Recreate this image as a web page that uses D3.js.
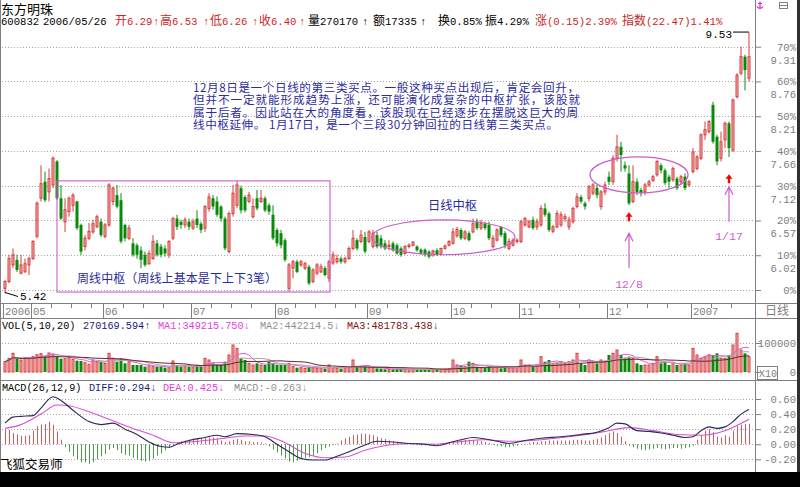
<!DOCTYPE html>
<html><head><meta charset="utf-8">
<script src="https://cdn.jsdelivr.net/npm/d3@7/dist/d3.min.js"></script>
<style>
html,body{margin:0;padding:0;background:#fff;overflow:hidden}
svg{display:block}
</style></head><body>
<svg id="chart" width="800" height="487"></svg>
<script>
// ================= DATA =================
const months = ["2006/04","2006/05","2006/06","2006/07","2006/08","2006/09","2006/10","2006/11","2006/12","2007/01"];
const monthLabels = ["2006","05","06","07","08","09","10","11","12","2007"];
const monthDays = [
 [20,21,24,25,26,27,28],
 [8,9,10,11,12,15,16,17,18,19,22,23,24,25,26,29,30,31],
 [1,2,5,6,7,8,9,12,13,14,15,16,19,20,21,22,23,26,27,28,29,30],
 [3,4,5,6,7,10,11,12,13,14,17,18,19,20,21,24,25,26,27,28,31],
 [1,2,3,4,7,8,9,10,11,14,15,16,17,18,21,22,23,24,25,28,29,30,31],
 [1,4,5,6,7,8,11,12,13,14,15,18,19,20,21,22,25,26,27,28,29],
 [9,10,11,12,13,16,17,18,19,20,23,24,25,26,27,30,31],
 [1,2,3,6,7,8,9,10,13,14,15,16,17,20,21,22,23,24,27,28,29,30],
 [1,4,5,6,7,8,11,12,13,14,15,18,19,20,21,22,25,26,27,28,29],
 [4,5,8,9,10,11,12,15,16,17,18,19,22,23,24]
];
// [open, high, low, close]
const ohlc = [
[5.50,5.63,5.42,5.61],[5.61,6.03,5.58,5.97],[5.87,6.13,5.82,6.03],[5.95,6.03,5.76,5.79],[5.74,6.03,5.72,5.87],
[5.76,5.97,5.75,5.89],[5.87,6.00,5.71,5.97],[5.97,6.26,5.95,6.24],[6.32,6.87,6.29,6.84],[6.92,7.44,6.87,7.15],
[7.18,7.34,6.86,6.89],[7.02,7.39,6.87,7.23],[7.13,7.58,7.08,7.55],[7.50,7.52,6.89,6.92],[6.92,7.13,6.58,6.60],
[6.55,6.92,6.39,6.74],[6.71,6.95,6.63,6.92],[6.81,7.00,6.71,6.97],[6.87,6.88,6.42,6.45],[6.50,6.52,6.03,6.08],
[6.16,6.34,6.10,6.29],[6.29,6.53,6.26,6.40],[6.39,6.58,6.36,6.52],[6.47,6.66,6.45,6.63],[6.55,6.60,6.31,6.34],
[6.32,6.53,6.29,6.50],[6.50,7.16,6.47,7.13],[6.87,7.10,6.81,7.08],[6.97,7.13,6.76,6.79],[6.89,7.00,6.21,6.24],
[6.50,6.52,6.24,6.29],[6.29,6.50,6.26,6.45],[6.21,6.29,6.00,6.03],[6.18,6.21,5.97,6.03],[6.10,6.16,5.82,5.95],
[6.03,6.08,5.84,5.87],[5.89,6.10,5.87,6.05],[5.97,6.34,5.95,6.24],[6.21,6.26,6.00,6.03],[6.16,6.20,5.99,6.03],
[6.13,6.18,6.00,6.05],[6.03,6.26,5.98,6.24],[6.29,6.63,6.26,6.60],[6.60,6.66,6.42,6.47],[6.55,6.58,6.44,6.50],
[6.50,6.62,6.45,6.58],[6.55,6.60,6.42,6.47],[6.45,6.60,6.42,6.55],[6.60,6.73,6.45,6.50],[6.52,6.55,6.37,6.42],
[6.45,6.81,6.39,6.79],[6.76,7.00,6.71,6.94],[6.92,6.97,6.74,6.79],[6.87,6.95,6.63,6.66],[6.79,6.81,6.55,6.60],
[6.60,6.63,6.10,6.13],[6.08,6.71,6.05,6.68],[6.68,7.13,6.63,7.00],[6.81,7.19,6.76,7.13],[7.08,7.12,6.68,6.73],
[6.94,6.97,6.70,6.73],[6.87,7.02,6.84,6.97],[6.63,6.92,6.60,6.79],[6.92,7.05,6.73,6.76],[6.87,7.05,6.84,6.92],
[6.92,6.95,6.70,6.73],[6.81,6.84,6.66,6.71],[6.66,6.81,6.26,6.29],[6.42,6.45,6.16,6.21],[6.37,6.42,6.13,6.18],
[6.26,6.29,5.92,5.95],[5.50,5.90,5.45,5.87],[5.82,5.95,5.66,5.92],[5.92,5.95,5.74,5.76],[5.87,5.95,5.84,5.92],
[5.82,5.92,5.79,5.89],[5.84,5.87,5.55,5.58],[5.61,5.82,5.58,5.79],[5.74,5.90,5.71,5.87],[5.76,5.89,5.74,5.84],
[5.82,5.85,5.69,5.71],[5.66,5.95,5.60,5.92],[5.90,6.08,5.87,6.03],[5.92,6.03,5.89,5.97],[5.97,6.00,5.89,5.92],
[5.92,6.00,5.89,5.97],[5.97,6.16,5.95,6.13],[6.13,6.42,6.10,6.29],[6.26,6.29,6.10,6.13],[6.24,6.42,6.21,6.34],
[6.31,6.39,6.05,6.08],[6.24,6.42,6.21,6.39],[6.16,6.42,6.13,6.37],[6.34,6.39,6.13,6.16],[6.29,6.34,6.13,6.16],
[6.21,6.26,6.10,6.13],[6.16,6.26,6.10,6.18],[6.21,6.24,6.08,6.10],[6.18,6.21,6.03,6.05],[6.13,6.16,6.00,6.03],
[6.05,6.18,6.03,6.16],[6.16,6.21,6.13,6.18],[6.18,6.24,6.16,6.23],[6.16,6.18,6.08,6.10],[6.11,6.13,6.03,6.06],
[6.11,6.13,6.00,6.03],[6.08,6.10,5.97,6.00],[6.03,6.11,6.00,6.09],[6.10,6.13,6.01,6.03],[6.04,6.14,6.02,6.13],
[6.13,6.19,6.11,6.17],[6.18,6.26,6.16,6.24],[6.21,6.45,6.19,6.39],[6.33,6.47,6.30,6.43],[6.42,6.45,6.26,6.29],
[6.29,6.42,6.26,6.39],[6.37,6.40,6.24,6.26],[6.39,6.60,6.37,6.52],[6.55,6.60,6.42,6.45],[6.45,6.58,6.42,6.52],
[6.52,6.55,6.42,6.45],[6.50,6.55,6.26,6.29],[6.16,6.34,6.13,6.29],[6.26,6.45,6.24,6.42],[6.47,6.48,6.31,6.34],
[6.37,6.40,6.13,6.18],[6.13,6.29,6.10,6.24],[6.18,6.29,6.16,6.26],[6.24,6.29,6.21,6.26],[6.24,6.58,6.21,6.55],
[6.50,6.63,6.47,6.60],[6.47,6.58,6.45,6.55],[6.58,6.63,6.42,6.45],[6.47,6.60,6.42,6.55],[6.50,6.81,6.47,6.76],
[6.76,6.84,6.63,6.66],[6.68,6.71,6.39,6.42],[6.40,6.50,6.37,6.47],[6.47,6.73,6.45,6.68],[6.50,6.71,6.47,6.66],
[6.60,6.68,6.55,6.63],[6.47,6.63,6.42,6.58],[6.55,6.79,6.52,6.76],[6.79,7.00,6.76,6.94],[6.94,6.97,6.84,6.87],
[6.84,6.87,6.74,6.79],[6.92,7.13,6.87,7.10],[7.00,7.16,6.97,7.13],[7.08,7.13,6.92,6.97],[6.79,7.05,6.74,7.02],
[7.02,7.18,6.97,7.13],[7.26,7.34,7.13,7.18],[7.18,7.60,7.13,7.55],[7.55,7.92,7.50,7.73],[7.73,7.81,7.34,7.60],
[7.44,7.50,7.34,7.39],[7.31,7.44,6.81,6.84],[6.87,7.44,6.84,7.18],[7.18,7.23,6.97,7.02],[7.05,7.08,6.95,7.00],
[7.02,7.16,6.97,7.13],[7.13,7.21,7.10,7.18],[7.20,7.29,7.18,7.26],[7.29,7.52,7.26,7.50],[7.44,7.47,7.31,7.36],
[7.36,7.39,7.13,7.16],[7.26,7.29,7.08,7.18],[7.21,7.42,7.18,7.39],[7.23,7.26,7.05,7.08],[7.18,7.29,7.13,7.26],
[7.26,7.31,7.05,7.08],[7.13,7.21,7.10,7.18],[7.34,7.71,7.31,7.65],[7.39,7.60,7.36,7.57],[7.55,7.94,7.52,7.92],
[7.92,8.13,7.84,8.00],[7.97,8.15,7.94,8.13],[8.39,8.44,7.78,7.81],[7.89,7.92,7.44,7.50],[7.55,7.97,7.50,7.81],
[7.84,8.13,7.71,8.10],[8.10,8.13,7.57,7.71],[7.68,8.49,7.65,8.47],[8.52,8.89,8.49,8.86],[8.89,9.31,8.86,9.15],
[9.15,9.18,8.62,8.94],[8.81,9.53,8.76,9.15]
];
// volume, thousands of shares
const volumeK = [
356,471,644,471,414,471,471,529,598,632,
552,655,621,552,460,460,506,437,391,380,
322,270,414,356,356,299,644,471,356,471,
299,356,241,241,241,184,241,184,184,184,
150,150,380,241,184,184,184,184,241,184,
471,414,299,241,241,356,586,931,816,471,
414,299,241,299,241,241,356,299,241,241,
241,299,184,150,150,126,184,150,126,115,
115,241,150,126,115,115,150,414,184,184,
184,150,150,126,115,92,92,92,103,103,
92,80,80,80,80,92,92,80,80,92,
103,115,414,241,241,184,356,299,184,150,
150,184,150,150,126,150,126,115,126,414,
241,241,184,207,529,356,414,299,299,356,
299,356,414,644,299,241,414,356,299,414,
356,586,644,759,586,471,529,471,299,241,
241,241,299,529,299,356,241,299,241,241,
299,241,816,586,471,529,586,586,644,471,
471,586,931,1334,759,644,529];
// MACD lines: [candle index, value]
const diffPts = [[0,0.28],[2,0.36],[4,0.37],[7,0.38],[9,0.48],[12,0.63],[14,0.58],[17,0.45],[21,0.30],[24,0.26],[27,0.28],[30,0.20],[33,0.13],[36,0.03],[39,-0.03],[41,-0.04],[43,0.00],[46,0.05],[50,0.09],[53,0.12],[55,0.10],[58,0.14],[62,0.13],[65,0.10],[68,0.0],[71,-0.10],[74,-0.19],[77,-0.21],[80,-0.21],[83,-0.16],[86,-0.10],[90,-0.01],[93,0.04],[97,0.03],[101,0.01],[105,0.0],[108,-0.02],[111,0.02],[114,0.06],[117,0.09],[120,0.07],[123,0.04],[126,0.01],[130,0.05],[134,0.08],[139,0.10],[144,0.13],[148,0.16],[151,0.22],[153,0.28],[155,0.27],[158,0.18],[161,0.17],[164,0.15],[167,0.12],[170,0.09],[172,0.10],[174,0.18],[176,0.23],[178,0.21],[180,0.23],[182,0.30],[184,0.40],[186,0.46]];
const deaPts = [[0,0.21],[4,0.26],[9,0.40],[13,0.52],[16,0.51],[21,0.43],[27,0.31],[32,0.21],[37,0.12],[42,0.02],[46,0.03],[50,0.05],[55,0.08],[60,0.11],[65,0.11],[70,0.02],[75,-0.12],[80,-0.18],[85,-0.17],[90,-0.08],[96,-0.01],[101,0.01],[107,0.0],[113,0.03],[120,0.06],[126,0.04],[134,0.06],[141,0.10],[149,0.16],[156,0.22],[162,0.18],[168,0.13],[174,0.12],[180,0.18],[186,0.33]];
const macdHist = [
0.20,0.19,0.15,0.13,0.11,0.11,0.12,0.18,0.24,0.26,0.27,0.30,0.26,0.17,0.06,
-0.04,-0.10,-0.16,-0.20,-0.24,-0.24,-0.26,-0.24,-0.20,-0.16,-0.13,-0.07,-0.05,-0.08,-0.12,-0.14,-0.15,-0.18,-0.20,-0.22,-0.23,-0.22,-0.19,-0.15,-0.12,-0.08,-0.05,-0.01,
0.02,0.04,0.05,0.06,0.06,0.07,0.07,0.08,0.09,0.09,0.08,0.05,0.03,0.04,0.06,0.07,0.06,0.04,0.04,0.03,0.03,0.02,0.01,
-0.03,-0.07,-0.11,-0.15,-0.19,-0.23,-0.24,-0.22,-0.20,-0.18,-0.17,-0.15,-0.12,-0.08,-0.05,-0.03,-0.01,0.01,
0.05,0.08,0.10,0.12,0.13,0.14,0.14,0.13,0.12,0.10,0.08,0.07,0.05,0.04,0.03,0.02,0.02,
0.01,0.00,-0.01,-0.02,-0.02,-0.02,-0.01,-0.01,0.00,0.01,
0.02,0.03,0.04,0.05,0.06,0.06,0.06,0.05,0.04,0.03,0.02,
-0.01,-0.02,-0.03,-0.04,-0.04,-0.03,-0.02,-0.01,
0.01,0.02,0.03,0.03,0.04,0.04,0.05,0.05,0.05,0.05,0.05,0.05,0.06,0.06,0.06,0.05,0.05,0.06,0.07,0.09,0.12,0.15,0.17,0.15,0.10,0.04,
-0.02,-0.04,-0.06,-0.07,-0.08,-0.07,-0.06,-0.05,-0.06,-0.07,-0.06,-0.05,-0.05,-0.06,-0.05,-0.04,-0.02,
0.06,0.12,0.18,0.20,0.16,0.10,0.09,0.12,0.10,0.18,0.24,0.26,0.27,0.27];
// axis ticks
const basePrice = 5.475;
const pctTicks = [0,10,20,30,40,50,60,70];
const priceTickLabels = ["","6.02","6.57","7.12","7.66","8.21","8.76","9.31"];
const volTicks = [0,1000];
const volTickLabels = ["0","100000"];
const macdTicks = [-0.2,0,0.2,0.4,0.6];
// annotations (in data coordinates)
const lowMark = {i:0, price:5.42};
const highMark = {i:186, price:9.53};
const weeklyBox = {i0:13, i1:81.25, lo:5.443, hi:7.194};
const dailyCenters = [{i0:91.75, i1:127.5, lo:6.03, hi:6.58},{i0:146.25, i1:170.75, lo:7.005, hi:7.573}];
const buyMarks = [
 {i:156, label:"12/8", arrowPrice:6.70, tipPrice:6.37, tailPrice:5.82, labelPrice:5.51},
 {i:181, label:"1/17", arrowPrice:7.30, tipPrice:7.10, tailPrice:6.55, labelPrice:6.26}
];
const noteLines = [
 "12月8日是一个日线的第三类买点。一般这种买点出现后，肯定会回升，",
 "但并不一定就能形成趋势上涨，还可能演化成复杂的中枢扩张，该股就",
 "属于后者。因此站在大的角度看，该股现在已经逐步在摆脱这巨大的周",
 "线中枢延伸。 1月17日，是一个三段30分钟回拉的日线第三类买点。"
];
const noteWidths = [386,387,385,365];

// ================= DRAW =================
const svg = d3.select("#chart");
const MONO = '"Liberation Mono","DejaVu Sans Mono",monospace';
const CJK = '"Noto Sans CJK SC","Noto Sans CJK TC",sans-serif';
const GREY = "#808080";
const RED_S = "#d83c3c", RED_F = "#f3b3b3", GREEN = "#0a8a0a";
const N = ohlc.length;

const dates = [];
months.forEach((m,k)=>monthDays[k].forEach(d=>dates.push(new Date(+m.slice(0,4), +m.slice(5,7)-1, d))));
const monthStart = [];
{ let c=0; monthDays.forEach(a=>{monthStart.push(c); c+=a.length;}); }

const xc = d3.scaleLinear().domain([0,N-1]).range([5,5+4*(N-1)]);
const yP = d3.scaleLinear().domain([basePrice, basePrice*1.7]).range([290,46.7]);
const yV = d3.scaleLinear().domain([0,1000]).range([372,343]);
const yM = d3.scaleLinear().domain([-0.2,0.6]).range([459.3,399]);

svg.append("rect").attr("width",800).attr("height",487).attr("fill","#fff");

function mixed(g,x,y,str,color,size,cjkSize){
  const t=g.append("text").attr("x",x).attr("y",y).attr("fill",color).style("white-space","pre");
  (str.match(/[\x00-\x7F\u2190-\u2195]+|[^\x00-\x7F\u2190-\u2195]+/g)||[]).forEach(r=>{
    const asc=/[\x00-\x7F\u2190-\u2195]/.test(r[0]);
    t.append("tspan").text(r).attr("font-family",asc?MONO:CJK).attr("font-size",asc?(size||10.6):(cjkSize||12));
  });
  return t;
}

// frame lines
const frame = svg.append("g").attr("stroke",GREY).attr("stroke-width",1);
frame.append("line").attr("x1",0.5).attr("x2",0.5).attr("y1",0).attr("y2",472);
frame.append("line").attr("x1",755.5).attr("x2",755.5).attr("y1",0).attr("y2",472);
[303.5,318.5,380.5].forEach(y=>frame.append("line").attr("x1",0).attr("x2",797).attr("y1",y).attr("y2",y));
svg.append("rect").attr("x",797).attr("y",0).attr("width",3).attr("height",487).attr("fill","#303030");
svg.append("rect").attr("x",0).attr("y",472).attr("width",800).attr("height",15).attr("fill","#000");

// grids
function grid(ys){
  const g=svg.append("g").attr("stroke","#a8a8a8").attr("stroke-dasharray","1,2");
  ys.forEach(y=>g.append("line").attr("x1",2).attr("x2",755).attr("y1",Math.round(y)+0.5).attr("y2",Math.round(y)+0.5));
}
const priceTickVals = pctTicks.map(p=>basePrice*(1+p/100));
grid(priceTickVals.map(yP));
grid([yV(1000)]);
grid(macdTicks.map(yM));

function styleAxis(g){
  g.select(".domain").remove();
  g.selectAll(".tick line").attr("stroke",GREY);
  g.selectAll(".tick text").attr("x",41).attr("text-anchor","end").attr("fill",GREY)
   .attr("font-family",MONO).attr("font-size",10.6);
}
const aP = svg.append("g").attr("transform","translate(755,0)")
  .call(d3.axisRight(yP).tickValues(priceTickVals).tickSize(6).tickFormat((d,i)=>pctTicks[i]+"%"));
styleAxis(aP);
aP.selectAll(".tick").each(function(d,i){
  if(priceTickLabels[i]) d3.select(this).append("text").attr("x",41).attr("y",13).attr("dy","0.32em")
    .attr("text-anchor","end").attr("fill",GREY).attr("font-family",MONO).attr("font-size",10.6).text(priceTickLabels[i]);
});
const aV = svg.append("g").attr("transform","translate(755,0)")
  .call(d3.axisRight(yV).tickValues(volTicks).tickSize(6).tickFormat((d,i)=>volTickLabels[i]));
styleAxis(aV);
const aM = svg.append("g").attr("transform","translate(755,0)")
  .call(d3.axisRight(yM).tickValues(macdTicks).tickSize(6).tickFormat(d=>d.toFixed(2)));
styleAxis(aM);
svg.append("rect").attr("x",757.5).attr("y",366.5).attr("width",20).attr("height",13).attr("fill","none").attr("stroke",GREY);
svg.append("text").attr("x",759).attr("y",377).attr("font-family",MONO).attr("font-size",10).attr("fill",GREY).text("X10");

// date axis
const dAx = svg.append("g");
monthStart.forEach((s,k)=>{
  const tx = xc(s)-2;
  dAx.append("line").attr("x1",Math.round(tx)+0.5).attr("x2",Math.round(tx)+0.5).attr("y1",304).attr("y2",318).attr("stroke",GREY);
  dAx.append("text").attr("x",tx+2).attr("y",315).attr("font-family",MONO).attr("font-size",10.6).attr("fill",GREY).text(monthLabels[k]);
  const next = k+1<monthStart.length ? monthStart[k+1] : N+3;
  for(let j=s+5;j<=next-3 && j<N;j+=5){
    const wx=Math.round(xc(j)-2)+0.5;
    dAx.append("line").attr("x1",wx).attr("x2",wx).attr("y1",304).attr("y2",308).attr("stroke",GREY);
  }
});
mixed(svg,765,315,"日线",GREY,10.6,12);

// candles
const cg = svg.append("g");
ohlc.forEach((d,i)=>{
  const [o,h,l,c]=d, up=c>=o, x=xc(i);
  const col = up?RED_S:GREEN;
  cg.append("line").attr("x1",x).attr("x2",x).attr("y1",yP(h)).attr("y2",yP(l)).attr("stroke",col).attr("stroke-width",1);
  const top=yP(Math.max(o,c)), bot=yP(Math.min(o,c));
  if(up) cg.append("rect").attr("x",x-1).attr("y",top).attr("width",2).attr("height",Math.max(bot-top,0.8)).attr("fill",RED_F).attr("stroke",RED_S).attr("stroke-width",1);
  else cg.append("rect").attr("x",x-1.5).attr("y",top).attr("width",3).attr("height",Math.max(bot-top,1)).attr("fill",GREEN);
});

// volume
const vg = svg.append("g");
volumeK.forEach((v,i)=>{
  const [o,,,c]=ohlc[i], up=c>=o, x=xc(i);
  if(up) vg.append("rect").attr("x",x-1).attr("y",yV(v)).attr("width",2).attr("height",yV(0)-yV(v)).attr("fill",RED_F).attr("stroke",RED_S).attr("stroke-width",1);
  else vg.append("rect").attr("x",x-1.5).attr("y",yV(v)).attr("width",3).attr("height",yV(0)-yV(v)).attr("fill",GREEN);
});
function ma(arr,n){return arr.map((v,i)=>{const s=arr.slice(Math.max(0,i-n+1),i+1);return d3.mean(s);});}
const vLine = d3.line().x((d,i)=>xc(i)).y(d=>yV(d));
[[5,"#e060e0"],[10,"#a8a8a8"],[20,"#702828"]].forEach(([n,col])=>{
  svg.append("path").attr("d",vLine(ma(volumeK,n))).attr("fill","none").attr("stroke",col).attr("stroke-width",1);
});

// MACD
const mg = svg.append("g");
macdHist.forEach((v,i)=>{
  const x=Math.round(xc(i))+0.5;
  mg.append("line").attr("x1",x).attr("x2",x).attr("y1",yM(0)).attr("y2",yM(v)).attr("stroke",v>=0?"#d85a5a":"#4a9a4a").attr("stroke-width",1);
});
const mLine = d3.line().x(d=>xc(d[0])).y(d=>yM(d[1])).curve(d3.curveMonotoneX);
svg.append("path").attr("d",mLine(deaPts)).attr("fill","none").attr("stroke","#d850d8").attr("stroke-width",1.1);
svg.append("path").attr("d",mLine(diffPts)).attr("fill","none").attr("stroke","#2a2a5a").attr("stroke-width",1.1);

// annotations
const MAG="#cc5ccc";
svg.append("rect").attr("x",xc(weeklyBox.i0)).attr("y",yP(weeklyBox.hi))
  .attr("width",xc(weeklyBox.i1)-xc(weeklyBox.i0)).attr("height",yP(weeklyBox.lo)-yP(weeklyBox.hi))
  .attr("fill","none").attr("stroke",MAG).attr("stroke-width",1.1);
dailyCenters.forEach(e=>{
  svg.append("ellipse").attr("cx",(xc(e.i0)+xc(e.i1))/2).attr("cy",(yP(e.lo)+yP(e.hi))/2)
    .attr("rx",(xc(e.i1)-xc(e.i0))/2).attr("ry",(yP(e.lo)-yP(e.hi))/2)
    .attr("fill","none").attr("stroke",MAG).attr("stroke-width",1.2);
});
buyMarks.forEach(b=>{
  const x=xc(b.i), t=yP(b.arrowPrice);
  svg.append("path").attr("d",`M${x},${t}L${x-3.5},${t+4.5}L${x-1.2},${t+4.5}L${x-1.2},${t+9}L${x+1.2},${t+9}L${x+1.2},${t+4.5}L${x+3.5},${t+4.5}Z`).attr("fill","#ff0000");
  const tip=yP(b.tipPrice), tail=yP(b.tailPrice);
  svg.append("path").attr("d",`M${x},${tail}L${x},${tip}M${x-4},${tip+8}L${x},${tip}L${x+4},${tip+8}`).attr("fill","none").attr("stroke",MAG).attr("stroke-width",1.2);
  svg.append("text").attr("x",x).attr("y",yP(b.labelPrice)).attr("text-anchor","middle").attr("font-family",MONO).attr("font-size",11.5).attr("fill",MAG).text(b.label);
});
// low / high labels
{
  const x=xc(lowMark.i), y=yP(lowMark.price);
  svg.append("line").attr("x1",x).attr("y1",y-1).attr("x2",x+13).attr("y2",y+3).attr("stroke","#000");
  svg.append("text").attr("x",x+15).attr("y",y+7).attr("font-family",MONO).attr("font-size",11).attr("fill","#000").text(lowMark.price.toFixed(2));
  const hx=xc(highMark.i), hy=yP(highMark.price);
  svg.append("line").attr("x1",hx-16).attr("y1",hy-0.5).attr("x2",hx).attr("y2",hy-0.5).attr("stroke","#000");
  svg.append("text").attr("x",hx-17).attr("y",hy+5).attr("text-anchor","end").attr("font-family",MONO).attr("font-size",11).attr("fill","#000").text(highMark.price.toFixed(2));
}
// notes
const NAVY="#2c2c9c";
noteLines.forEach((s,k)=>{
  svg.append("text").attr("x",193).attr("y",92+k*12.4).attr("fill",NAVY).attr("font-family",CJK).attr("font-size",11.6)
    .attr("textLength",noteWidths[k]).attr("lengthAdjust","spacing").style("white-space","pre").text(s);
});
svg.append("text").attr("x",428).attr("y",210).attr("fill",NAVY).attr("font-family",CJK).attr("font-size",12.3)
  .attr("textLength",49).attr("lengthAdjust","spacing").text("日线中枢");
svg.append("text").attr("x",77).attr("y",283).attr("fill",NAVY).attr("font-family",CJK).attr("font-size",12)
  .attr("textLength",200).attr("lengthAdjust","spacing").text("周线中枢（周线上基本是下上下3笔）");

// headers
svg.append("text").attr("x",1).attr("y",14).attr("fill","#000").attr("font-family",CJK).attr("font-size",13).text("东方明珠");
const HR="#c82828";
[[1,"600832","#000"],[43,"2006/05/26","#000"],[115,"开6.29",HR],[153,"↑",HR],[160,"高6.53",HR],[203,"↑",HR],
 [210,"低6.26",HR],[252,"↑",HR],[259,"收6.40",HR],[299,"↑",HR],[308,"量270170","#000"],[362,"↑","#000"],
 [373,"额17335","#000"],[420,"↑","#000"],[438,"换0.85%","#000"],[485,"振4.29%","#000"],
 [535,"涨(0.15)2.39%",HR],[622,"指数(22.47)1.41%",HR]].forEach(([x,s,c])=>mixed(svg,x,25,s,c,10.6,12));
[[2,"VOL(5,10,20)","#000"],[83,"270169.594↑","#1a1a7a"],[158,"MA1:349215.750↓","#e040e0"],
 [260,"MA2:442214.5↓","#909090"],[347,"MA3:481783.438↓","#801010"]].forEach(([x,s,c])=>mixed(svg,x,329,s,c,10.2,12));
[[2,"MACD(26,12,9)","#000"],[89,"DIFF:0.294↓","#1a1a7a"],[163,"DEA:0.425↓","#e040e0"],[234,"MACD:-0.263↓","#909090"]]
 .forEach(([x,s,c])=>mixed(svg,x,391,s,c,10.2,12));
svg.append("text").attr("x",0).attr("y",469).attr("fill","#000").attr("font-family",CJK).attr("font-size",12.5).text("飞狐交易师");

// top-right icons
svg.append("path").attr("d","M760,1.5L760,9M758,3.5L762,3.5M757,6.5Q760,10.5 763,6.5").attr("fill","none").attr("stroke","#e020e0").attr("stroke-width",1.2);
svg.append("rect").attr("x",779.5).attr("y",2.5).attr("width",8).attr("height",6).attr("fill","none").attr("stroke",GREY);
svg.append("line").attr("x1",779.5).attr("x2",787.5).attr("y1",5.5).attr("y2",5.5).attr("stroke",GREY);
</script>
</body></html>
